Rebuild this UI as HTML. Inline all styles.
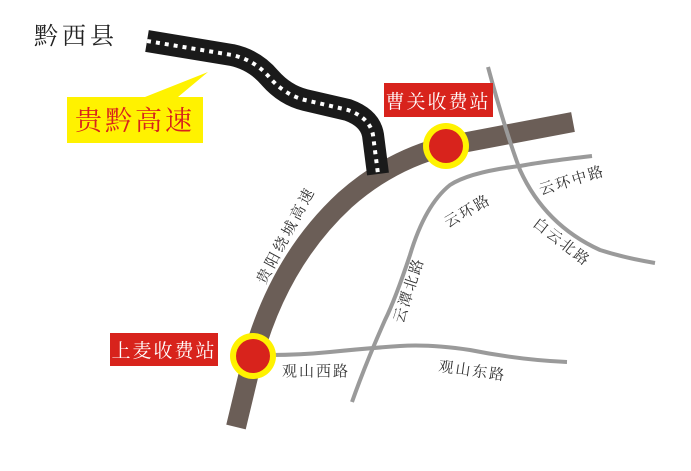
<!DOCTYPE html>
<html><head><meta charset="utf-8"><style>
html,body{margin:0;padding:0;background:#fff}
svg{display:block}
text{font-family:"Liberation Serif","Noto Serif CJK SC",serif}
</style></head><body>
<svg width="691" height="471" viewBox="0 0 691 471" xmlns="http://www.w3.org/2000/svg">
<!-- brown ring road -->
<path d="M236,427 L253,356 Q280,260 345,200 Q390,160 446,146 L573,122" fill="none" stroke="#6b5e57" stroke-width="20"/>
<!-- gray roads -->
<g fill="none" stroke="#9a9a9a" stroke-width="4">
<path d="M488,67 Q505,130 520,170 Q545,225 600,250 Q625,258 655,263"/>
<path d="M592,156 Q540,162 520,166 Q470,172 450,185 Q425,205 410,255 Q395,300 385,320 Q365,365 352,402"/>
<path d="M270,355 Q300,355 330,352 Q370,348 400,346 Q430,344 470,350 Q520,360 567,362"/>
</g>
<!-- black highway -->
<path d="M147,41 L232,55 Q255,60 270,78 Q285,95 305,100 L348,110 Q370,118 373,135 L378,174" fill="none" stroke="#1a1a1a" stroke-width="22"/>
<path d="M147,41 L232,55 Q255,60 270,78 Q285,95 305,100 L348,110 Q370,118 373,135 L378,174" fill="none" stroke="#fff" stroke-width="4" stroke-dasharray="4,5"/>
<!-- circles -->
<circle cx="446" cy="146" r="23" fill="#fff200"/><circle cx="446" cy="146" r="17" fill="#d8231c"/>
<circle cx="253" cy="356" r="23" fill="#fff200"/><circle cx="253" cy="356" r="17" fill="#d8231c"/>
<!-- labels boxes -->
<rect x="384" y="83" width="109" height="34" fill="#d8231c"/>
<text x="438" y="108" font-size="19" fill="#fff" text-anchor="middle" letter-spacing="2">曹关收费站</text>
<rect x="110" y="333" width="108" height="33" fill="#d8231c"/>
<text x="164" y="357" font-size="19" fill="#fff" text-anchor="middle" letter-spacing="2">上麦收费站</text>
<!-- yellow callout -->
<polygon points="67,97 145,97 208,72 178,97 203,97 203,143 67,143" fill="#fff200"/>
<text x="135" y="130" font-size="27" fill="#d8231c" text-anchor="middle" letter-spacing="3">贵黔高速</text>
<text x="34" y="44" font-size="24" fill="#222" letter-spacing="4">黔西县</text>
<!-- road labels -->
<g font-size="15" fill="#333">
<text transform="translate(265,285) rotate(-62)" letter-spacing="3">贵阳绕城高速</text>
<text transform="translate(448,228) rotate(-30)" letter-spacing="2">云环路</text>
<text transform="translate(541,195) rotate(-17)" letter-spacing="2">云环中路</text>
<text transform="translate(532,225) rotate(38)" letter-spacing="2">白云北路</text>
<text transform="translate(403,324) rotate(-72)" letter-spacing="2">云潭北路</text>
<text x="282" y="376" letter-spacing="2">观山西路</text>
<text transform="translate(438,371) rotate(8)" letter-spacing="2">观山东路</text>
</g>
</svg>
</body></html>
